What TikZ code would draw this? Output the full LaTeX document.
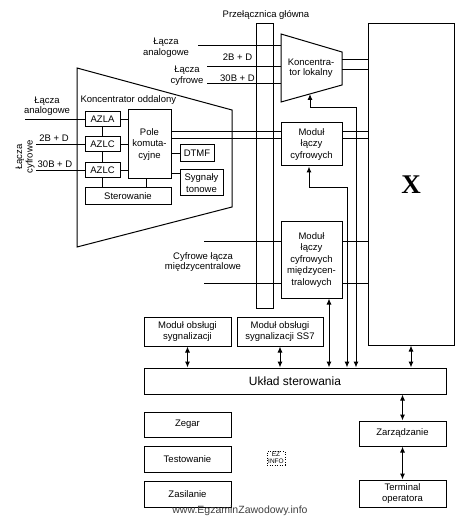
\documentclass[tikz,border=0pt]{standalone}
\usepackage{fontspec}
\setmainfont{Liberation Sans}
\newfontfamily\serifx{Liberation Serif}
\usetikzlibrary{arrows.meta}

\begin{document}
\begin{tikzpicture}[x=1pt,y=-1pt,>={Latex[length=6pt,width=5pt]},line width=1pt,
    box/.style={draw, align=center, inner sep=0pt, font=\fontsize{9.5}{11.5}\selectfont},
    lbl/.style={align=center, inner sep=0pt, font=\fontsize{9.5}{10.5}\selectfont}]
    \useasboundingbox (0,0) rectangle (466,518);

    \node[box, minimum width=17pt, minimum height=284pt] (prz) at (264.5,166) {};
    \node[lbl] (przl) at (266,15) {Przełącznica główna};
    \node[box, minimum width=86pt, minimum height=321pt] (X) at (411,184.5) {};
    \node[font=\serifx\bfseries\fontsize{27}{27}\selectfont] (Xl) at (X) {X};

    % koncentrator lokalny
    \draw (281,34) coordinate (kl1) -- (342,52) coordinate (kl2) -- (342,85) -- (281,102) -- cycle;
    \node[lbl] (kl) at (311,68) {Koncentra-\\tor lokalny};
    \coordinate (klb) at (310,94);
    \foreach \y in {60,70} \draw (kl2 |- 0,\y) -- (X.west |- 0,\y);
    \coordinate (inD) at (198,46);
    \coordinate (inE) at (207,67);
    \coordinate (inF) at (207,84);
    \draw (inD) -- (inD -| kl1) (inE) -- (inE -| kl1) (inF) -- (inF -| kl1);
    \node[lbl] (lan2) at (166,47.5) {Łącza\\analogowe};
    \node[lbl] (lcyf2) at (187,75.5) {Łącza\\cyfrowe};
    \node[lbl] (b2) at (237.5,57) {2B + D};
    \node[lbl] (b30) at (237.5,78) {30B + D};

    % koncentrator oddalony
    \draw (77,68) -- (232,110) -- (232,207) -- (77,247) -- cycle;
    \node[lbl, anchor=west] (kol) at (80,100) {Koncentrator oddalony};
    \node[box, minimum width=35pt, minimum height=15pt] (azla) at (102.5,119.5) {AZLA};
    \node[box, minimum width=35pt, minimum height=15pt] (azlc1) at (102.5,144.5) {AZLC};
    \node[box, minimum width=35pt, minimum height=15pt] (azlc2) at (102.5,170.5) {AZLC};
    \node[box, minimum width=43pt, minimum height=69pt] (pole) at (149.5,144.5) {Pole\\komuta-\\cyjne};
    \node[box, minimum width=34pt, minimum height=17pt] (dtmf) at (197,153.5) {DTMF};
    \node[box, minimum width=43pt, minimum height=26pt] (syg) at (201.5,183) {Sygnały\\tonowe};
    \node[box, minimum width=86pt, minimum height=17pt] (ster) at (128,196.5) {Sterowanie};
    \foreach \n in {azla,azlc1,azlc2} \draw (\n.east) -- (\n.east -| pole.west);
    \draw (azla) -- (azlc1) -- (azlc2) -- (azlc2 |- ster.north);
    \draw ([xshift=-3.5pt]pole.south) -- ([xshift=-3.5pt]pole.south |- ster.north);
    \draw (dtmf) -- (dtmf -| pole.east);
    \draw (syg.west |- 0,174) -- (pole.east |- 0,174);
    \coordinate (inA) at (25,119.5);
    \coordinate (inB) at (36,144.5);
    \coordinate (inC) at (36,170.5);
    \draw (inA) -- (azla) (inB) -- (azlc1) (inC) -- (azlc2);
    \node[lbl] (lan1) at (47,106) {Łącza\\analogowe};
    \node[lbl] (b2l) at (54,138.5) {2B + D};
    \node[lbl] (b30l) at (55,164) {30B + D};
    \node[lbl, rotate=90] (lcyf1) at (25,157) {Łącza\\cyfrowe};

    % moduly laczy
    \node[box, minimum width=61pt, minimum height=43pt] (mlc) at (311.5,144.5) {Moduł\\łączy\\cyfrowych};
    \foreach \y in {132,139} {
        \draw (pole.east |- 0,\y) -- (mlc.west |- 0,\y);
        \draw (mlc.east |- 0,\y) -- (X.west |- 0,\y);
    }
    \node[box, minimum width=61pt, minimum height=76pt] (mlcm) at (311.5,260) {Moduł\\łączy\\cyfrowych\\międzycen-\\tralowych};
    \coordinate (inG) at (204,241);
    \coordinate (inH) at (204,283);
    \draw (inG) -- (inG -| mlcm.west) (inH) -- (inH -| mlcm.west);
    \foreach \y in {241,283} \draw (mlcm.east |- 0,\y) -- (X.west |- 0,\y);
    \node[lbl] (cyfl) at (203,262) {Cyfrowe łącza\\międzycentralowe};

    \node[box, minimum width=87pt, minimum height=29pt] (mos) at (187.5,331.5) {Moduł obsługi\\sygnalizacji};
    \node[box, minimum width=86pt, minimum height=29pt] (mos7) at (280,331.5) {Moduł obsługi\\sygnalizacji SS7};
    \node[box, minimum width=302pt, minimum height=26pt, font=\fontsize{12}{13}\selectfont] (us) at (295,381) {Układ sterowania};
    \node[box, minimum width=87pt, minimum height=25pt] (zeg) at (187.5,424.5) {Zegar};
    \node[box, minimum width=87pt, minimum height=26pt] (test) at (187.5,459) {Testowanie};
    \node[box, minimum width=87pt, minimum height=26pt] (zas) at (187.5,494) {Zasilanie};
    \node[box, minimum width=87pt, minimum height=25pt] (zarz) at (402.5,433.5) {Zarządzanie};
    \node[box, minimum width=87pt, minimum height=27pt] (term) at (402.5,493.5) {Terminal\\operatora};

    \draw[<->] (mos) -- (mos |- us.north);
    \draw[<->] (mos7) -- (mos7 |- us.north);
    \draw[<->] (mlcm.south -| 329,0) -- (us.north -| 329,0);
    \coordinate (m1) at (309,188);
    \draw[<->] (us.north -| 347,0) |- (m1) -- (m1 |- mlc.south);
    \coordinate (k1) at (310,108);
    \draw[<->] (us.north -| 356,0) |- (k1) -- (klb);
    \draw[<->] (X) -- (X |- us.north);
    \draw[<->] (us.south -| zarz) -- (zarz);
    \draw[<->] (zarz) -- (term);

    \node[font=\fontsize{10.5}{11}\selectfont, text=black!75] (www) at (240,511) {www.EgzaminZawodowy.info};
    \node[draw, dotted, line width=0.5pt, inner sep=1pt, align=center, font=\fontsize{6.5}{7}\selectfont] (ez) at (276,458) {EZ\\INFO};
% X: unknown block to identify
\end{tikzpicture}
\end{document}
